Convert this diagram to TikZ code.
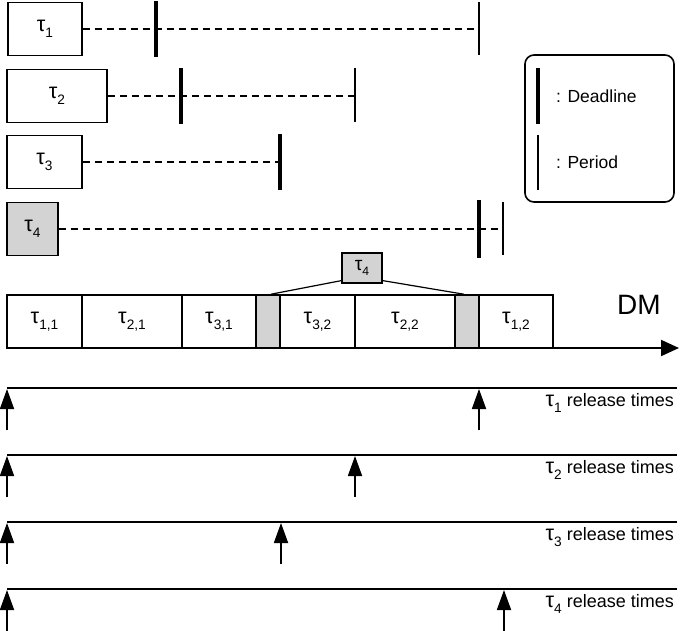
\documentclass[tikz,border=0pt]{standalone}
\usepackage{fontspec}
\usepackage{graphicx}
\setmainfont{Liberation Sans}
\usetikzlibrary{arrows.meta,calc}
\definecolor{boxgray}{RGB}{211,211,211}
\newcommand\tsb[1]{\raisebox{-0.36em}{\scalebox{0.76}{#1}}}
\newcommand\tl[1]{\scalebox{1.2}{τ}\tsb{#1}}
\begin{document}
\begin{tikzpicture}[x=1pt,y=-1pt,
  lbl/.style={font=\fontsize{18}{20}\selectfont},
  taskbox/.style={draw,line width=1.5pt,minimum height=53pt,inner sep=0pt,lbl},
  slotbox/.style={draw,line width=1.6pt,minimum height=53pt,inner sep=0pt,lbl},
  dashline/.style={line width=1.8pt,dash pattern=on 7pt off 5pt},
  deadmark/.style={line width=4pt},
  permark/.style={line width=1.8pt},
  relline/.style={line width=2pt},
  relarrow/.style={line width=1.8pt,-{Triangle[length=20pt,width=14pt]}},
  reltext/.style={anchor=base east,inner sep=0pt,lbl}]
\useasboundingbox (0,0) rectangle (680,630);
% task boxes
\node[taskbox,minimum width=74pt] (t1) at (45,29) {\tl{1}};
\node[taskbox,minimum width=100pt] (t2) at (57,96) {\tl{2}};
\node[taskbox,minimum width=75pt] (t3) at (44.5,162) {\tl{3}};
\node[taskbox,minimum width=51pt,fill=boxgray] (t4) at (32.5,229) {\tl{4}};
% dashed lines
\coordinate (e1) at (479,29);
\coordinate (e2) at (355,96);
\coordinate (e3) at (280,162);
\coordinate (e4) at (503,229);
\draw[dashline] (t1.east) -- (e1);
\draw[dashline] (t2.east) -- (e2);
\draw[dashline] (t3.east) -- (e3);
\draw[dashline] (t4.east) -- (e4);
% deadlines and periods
\draw[deadmark] (156,1) -- (156,57);
\draw[permark] (479,2) -- (479,55);
\draw[deadmark] (181,68) -- (181,124);
\draw[permark] (355,68) -- (355,122);
\draw[deadmark] (280,134) -- (280,190);
\draw[deadmark] (479,200) -- (479,258);
\draw[permark] (503,202) -- (503,255);
% legend
\draw[line width=1.6pt,rounded corners=9pt] (525,55) rectangle (674,202);
\draw[deadmark] (538,68) -- (538,124);
\draw[permark] (538,135) -- (538,190);
\node[anchor=west,inner sep=0pt,font=\fontsize{17.5}{20}\selectfont] (ld) at (556,96) {: Deadline};
\node[anchor=west,inner sep=0pt,font=\fontsize{17.5}{20}\selectfont] (lp) at (556,162) {: Period};
% DM schedule
\node[slotbox,minimum width=75pt] (s1) at (44.5,321.5) {\tl{1,1}};
\node[slotbox,minimum width=100pt] (s2) at (132,321.5) {\tl{2,1}};
\node[slotbox,minimum width=74pt] (s3) at (219,321.5) {\tl{3,1}};
\node[slotbox,minimum width=24pt,fill=boxgray] (g1) at (268,321.5) {};
\node[slotbox,minimum width=75pt] (s4) at (317.5,321.5) {\tl{3,2}};
\node[slotbox,minimum width=100pt] (s5) at (405,321.5) {\tl{2,2}};
\node[slotbox,minimum width=24pt,fill=boxgray] (g2) at (467,321.5) {};
\node[slotbox,minimum width=74pt] (s6) at (516,321.5) {\tl{1,2}};
\coordinate (ax0) at (7,348);
\coordinate (ax1) at (679,348);
\draw[line width=2pt,-{Triangle[length=18pt,width=16pt]}] (ax0) -- (ax1);
\node[font=\fontsize{28}{30}\selectfont,inner sep=0pt] (dm) at (639,305) {DM};
\node[draw,line width=1.2pt,fill=boxgray,minimum width=40pt,minimum height=30pt,inner sep=0pt,font=\fontsize{16}{18}\selectfont] (t4s) at (362,268) {\tl{4}};
\draw[line width=1.2pt] ([yshift=3pt]t4s.south west) -- ([xshift=3pt]g1.north);
\draw[line width=1.2pt] ([yshift=3pt]t4s.south east) -- ([xshift=-3pt]g2.north);
% release times
\foreach \y/\k/\xs in {388/1/479, 455/2/355, 522/3/281, 589/4/504}{
  \coordinate (l\k a) at (7,\y);
  \coordinate (l\k b) at (677,\y);
  \draw[relline] (l\k a) -- (l\k b);
  \coordinate (r\k a) at (7,\y+42);
  \coordinate (r\k b) at (7,\y+1);
  \draw[relarrow] (r\k a) -- (r\k b);
  \coordinate (q\k a) at (\xs,\y+42);
  \coordinate (q\k b) at (\xs,\y+1);
  \draw[relarrow] (q\k a) -- (q\k b);
  \node[reltext] (rt\k) at (674,\y+18) {\tl{\k} release times};
}
\end{tikzpicture}
\end{document}
